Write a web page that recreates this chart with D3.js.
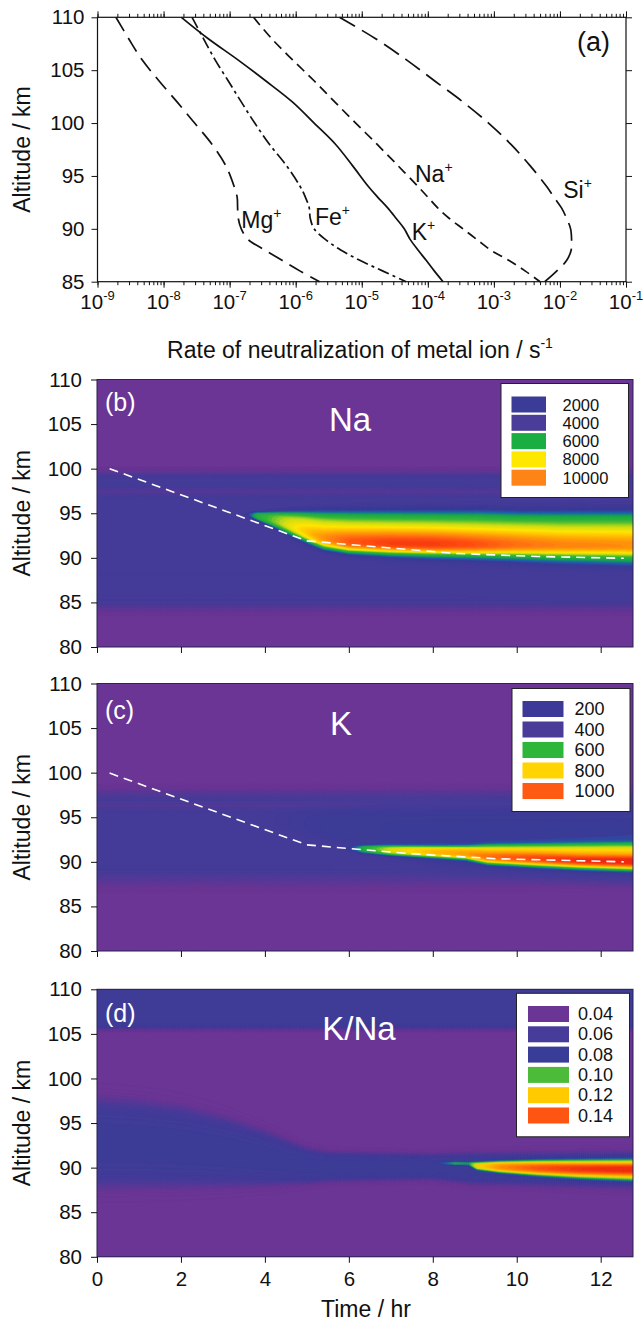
<!DOCTYPE html>
<html>
<head>
<meta charset="utf-8">
<script src="https://cdn.jsdelivr.net/npm/d3@7"></script>
<style>
  body { margin: 0; background: #fff; }
  svg text { font-family: "Liberation Sans", Arial, sans-serif; fill: #111; }
</style>
</head>
<body>
<div id="chart"></div>
<script>
// ---------- panel (a): rate of neutralization profiles ----------
const ionAlt = [110, 108, 106, 104, 102, 100, 98, 96, 94, 93, 92, 91, 90, 89, 88, 87, 86, 85];
const rateMg = [1.9e-9, 2.95e-9, 4.7e-9, 8.5e-9, 1.6e-8, 2.95e-8, 5.4e-8, 8.7e-8, 1.17e-7, 1.3e-7, 1.32e-7, 1.35e-7, 1.5e-7, 1.9e-7, 3.4e-7, 6.3e-7, 1.17e-6, 2.3e-6];
const rateFe = [2.7e-8, 4.0e-8, 6.0e-8, 9.5e-8, 1.5e-7, 2.4e-7, 4.0e-7, 7.2e-7, 1.17e-6, 1.4e-6, 1.6e-6, 1.66e-6, 1.9e-6, 2.8e-6, 4.8e-6, 9.5e-6, 2.1e-5, 4.7e-5];
const rateK  = [1.86e-8, 4.7e-8, 1.32e-7, 3.5e-7, 8.9e-7, 1.9e-6, 4.0e-6, 7.2e-6, 1.26e-5, 1.74e-5, 2.45e-5, 3.3e-5, 4.4e-5, 5.4e-5, 7.1e-5, 9.5e-5, 1.26e-4, 1.7e-4];
const rateNa = [2.3e-7, 4.3e-7, 8.9e-7, 1.9e-6, 3.9e-6, 8.1e-6, 1.7e-5, 3.5e-5, 7.1e-5, 1.0e-4, 1.4e-4, 2.1e-4, 3.4e-4, 5.5e-4, 8.9e-4, 1.7e-3, 3.0e-3, 5.0e-3];
const rateSi = [4.6e-6, 1.6e-5, 4.7e-5, 1.26e-4, 3.4e-4, 8.3e-4, 1.8e-3, 3.5e-3, 6.3e-3, 8.1e-3, 1.05e-2, 1.26e-2, 1.45e-2, 1.5e-2, 1.48e-2, 1.26e-2, 8.9e-3, 5.9e-3];

const rateTicks = [1e-9, 1e-8, 1e-7, 1e-6, 1e-5, 1e-4, 1e-3, 1e-2, 1e-1];
const rateTickExp = ["-9", "-8", "-7", "-6", "-5", "-4", "-3", "-2", "-1"];
const altTicksA = [85, 90, 95, 100, 105, 110];

// ion labels anchored in data units (rate, altitude)
const ionLabels = [
  { ion: "Mg", rate: 1.5e-7, alt: 90.05 },
  { ion: "Fe", rate: 1.96e-6, alt: 90.36 },
  { ion: "Na", rate: 6.4e-5, alt: 94.45 },
  { ion: "K",  rate: 5.7e-5, alt: 88.94 },
  { ion: "Si", rate: 1.12e-2, alt: 92.89 }
];

// ---------- panels (b)-(d): time / altitude fields ----------
const timeTicks = [0, 2, 4, 6, 8, 10, 12];
const altTicks = [80, 85, 90, 95, 100, 105, 110];
const timeMax = 12.77;

// (b) Na: background profile and layer description vs time
const naBgAlt = [80, 83.4, 85.0, 96.8, 97.4, 98.0, 99.0, 100.3, 110];
const naBgVal = [1000, 1000, 3000, 3000, 2300, 3000, 3000, 1100, 1000];
const naTime   = [3.45, 3.8, 4.3, 4.9, 5.4, 6.0, 7.0, 8.0, 9.0, 10.0, 11.0, 12.77];
const naTop    = [95.0, 95.1, 95.1, 95.1, 95.1, 95.1, 95.1, 95.1, 95.1, 95.0, 95.0, 95.0];
const naBottom = [94.9, 94.3, 93.4, 92.3, 91.3, 90.8, 90.4, 90.15, 90.0, 89.8, 89.6, 89.4];
const naShelf  = [0, 3000, 3600, 3800, 3800, 3800, 3800, 3800, 3800, 3800, 3800, 3900];
const naPeakAlt = [94.5, 94.2, 93.4, 92.5, 91.9, 91.6, 91.5, 91.45, 91.4, 91.4, 91.35, 91.3];
const naPeak    = [0, 0, 600, 2000, 3200, 4300, 4800, 4800, 4300, 3600, 3200, 2900];
const naDashTime = [0.3, 5.0, 6.5, 8.5, 10.5, 12.55];
const naDashAlt  = [100.0, 91.9, 91.3, 90.5, 90.15, 89.95];
const naLegend = ["2000", "4000", "6000", "8000", "10000"];

// (c) K
const kBgAlt = [80, 86.4, 87.8, 89.0, 95.6, 96.3, 97.0, 97.6, 98.8, 110];
const kBgVal = [100, 100, 220, 300, 300, 250, 290, 240, 110, 100];
const kHaloTime   = [3.5, 5.5, 8.0, 12.77];
const kHaloTop    = [95.5, 95.8, 95.9, 96.0];
const kHaloBottom = [94.5, 92.5, 90.0, 88.3];
const kHalo       = [0, 110, 130, 140];
const kTime   = [5.8, 6.3, 7.0, 8.0, 8.8, 9.3, 10.5, 11.5, 12.77];
const kTop    = [91.7, 91.8, 91.75, 91.7, 91.7, 91.8, 91.85, 91.9, 91.95];
const kBottom = [91.5, 91.0, 90.8, 90.6, 90.4, 89.9, 89.6, 89.4, 89.2];
const kShelf  = [0, 220, 300, 330, 350, 370, 380, 380, 380];
const kPeakAlt = [91.6, 91.4, 91.2, 91.0, 90.8, 90.5, 90.3, 90.1, 90.0];
const kPeak    = [0, 30, 80, 120, 150, 200, 260, 310, 340];
const kDashTime = [0.3, 5.0, 6.0, 7.5, 9.5, 12.55];
const kDashAlt  = [99.95, 91.9, 91.5, 90.9, 90.35, 90.0];
const kLegend = ["200", "400", "600", "800", "1000"];

// (d) K/Na
const rBgAlt = [80, 105.2, 106.0, 110];
const rBgVal = [0.045, 0.045, 0.072, 0.074];
const rBandTime   = [0, 1, 2, 3, 4, 5, 5.5, 8, 9, 12.77];
const rBandTop    = [97.3, 97.0, 96.4, 95.3, 93.8, 92.0, 91.6, 91.4, 91.5, 91.6];
const rBandBottom = [88.3, 88.3, 88.3, 88.3, 88.3, 88.4, 88.6, 88.8, 88.3, 87.9];
const rBand       = [0.03, 0.03, 0.03, 0.03, 0.03, 0.03, 0.03, 0.03, 0.03, 0.03];
const rTime   = [8.1, 8.5, 8.85, 9.05, 9.6, 10.5, 11.5, 12.77];
const rTop    = [90.55, 90.6, 90.6, 90.55, 90.65, 90.75, 90.8, 90.85];
const rBottom = [90.45, 90.35, 90.3, 89.85, 89.55, 89.2, 88.9, 88.65];
const rShelf  = [0, 0.022, 0.02, 0.035, 0.042, 0.045, 0.047, 0.048];
const rPeakAlt = [90.5, 90.45, 90.45, 90.15, 90.05, 89.95, 89.85, 89.8];
const rPeak    = [0, 0, 0, 0.008, 0.015, 0.022, 0.028, 0.032];
const rLegend = ["0.04", "0.06", "0.08", "0.10", "0.12", "0.14"];

// ---------- styles ----------
const purple = "#6a3594";
const naColor = d3.scaleLinear()
  .domain([0, 1500, 2800, 4200, 4800, 5500, 6500, 7300, 8000, 9000, 10000, 11000, 12000])
  .range([purple, purple, "#463b98", "#3a3b96", "#1d62ae", "#17a64a", "#38b836", "#cfdd14", "#ffe600", "#ffb000", "#ff7c12", "#ff4a10", "#e82a0e"])
  .clamp(true);
const kColor = d3.scaleLinear()
  .domain([0, 150, 280, 420, 500, 560, 650, 730, 800, 900, 1000, 1100])
  .range([purple, purple, "#463b98", "#3a3b96", "#1d62ae", "#18a84a", "#35ba38", "#cadc16", "#ffd800", "#ffa000", "#ff5a12", "#f02810"])
  .clamp(true);
const rColor = d3.scaleLinear()
  .domain([0, 0.05, 0.062, 0.075, 0.085, 0.095, 0.10, 0.11, 0.12, 0.13, 0.14, 0.15])
  .range([purple, purple, "#473b99", "#3b3c97", "#2a5aa8", "#1aa84a", "#4cbb3a", "#c8d820", "#ffcc00", "#ff9400", "#ff5512", "#f03010"])
  .clamp(true);
const naSwatch = ["#3b3c98", "#4a3d9a", "#19ad42", "#ffe800", "#ff8418"];
const kSwatch = ["#3c3a96", "#4b3b98", "#2db63a", "#ffd400", "#ff5a14"];
const rSwatch = ["#6a3594", "#473c9a", "#3a3d97", "#4cbb3a", "#ffcb00", "#ff5512"];

const tickFont = 20.5, titleFont = 23;

const W = 644, H = 1322;
const svg = d3.select("#chart").append("svg")
  .attr("width", W)
  .attr("height", H);

// ====================== panel (a) ======================
const aBox = { left: 97.5, right: 626, top: 17.3, bottom: 281.7 };
const xRate = d3.scaleLog().domain([1e-9, 1e-1]).range([aBox.left, aBox.right]);
const yA = d3.scaleLinear().domain([85, 110]).range([aBox.bottom, aBox.top]);

const gA = svg.append("g");

function noDomain(sel) { sel.select(".domain").remove(); }

// minor + major ticks, bottom and top
gA.append("g").attr("transform", `translate(0,${aBox.bottom})`)
  .call(d3.axisBottom(xRate).tickValues(xRate.ticks()).tickSize(3.5).tickFormat(""))
  .call(noDomain);
gA.append("g").attr("transform", `translate(0,${aBox.bottom})`)
  .call(d3.axisBottom(xRate).tickValues(rateTicks).tickSize(6).tickFormat(""))
  .call(noDomain);
gA.append("g").attr("transform", `translate(0,${aBox.top})`)
  .call(d3.axisTop(xRate).tickValues(xRate.ticks()).tickSize(3.5).tickFormat(""))
  .call(noDomain);
gA.append("g").attr("transform", `translate(0,${aBox.top})`)
  .call(d3.axisTop(xRate).tickValues(rateTicks).tickSize(6).tickFormat(""))
  .call(noDomain);
gA.append("g").attr("transform", `translate(${aBox.left},0)`)
  .call(d3.axisLeft(yA).tickValues(altTicksA).tickSize(6).tickPadding(7))
  .call(noDomain)
  .selectAll("text").attr("font-size", tickFont);
gA.append("g").attr("transform", `translate(${aBox.right},0)`)
  .call(d3.axisRight(yA).tickValues(altTicksA).tickSize(6).tickFormat(""))
  .call(noDomain);
gA.selectAll(".tick line").attr("stroke", "#111");

rateTicks.forEach((v, i) => {
  const t = gA.append("text")
    .attr("x", xRate(v))
    .attr("y", 308.5)
    .attr("text-anchor", "middle")
    .attr("font-size", tickFont);
  t.append("tspan").text("10");
  t.append("tspan").attr("dy", -9).attr("font-size", 13).text(rateTickExp[i]);
});

gA.append("rect")
  .attr("x", aBox.left).attr("y", aBox.top)
  .attr("width", aBox.right - aBox.left).attr("height", aBox.bottom - aBox.top)
  .attr("fill", "none").attr("stroke", "#111").attr("stroke-width", 1.2);

const ionSeries = [
  { rates: rateMg, dash: "16,8" },
  { rates: rateFe, dash: "12,4,3,4" },
  { rates: rateK,  dash: null },
  { rates: rateNa, dash: "10,6" },
  { rates: rateSi, dash: "18,8" }
];
const ionLine = d3.line()
  .x(d => xRate(d.rate))
  .y(d => yA(d.alt))
  .curve(d3.curveCatmullRom);
ionSeries.forEach(s => {
  gA.append("path")
    .datum(ionAlt.map((a, i) => ({ alt: a, rate: s.rates[i] })))
    .attr("d", ionLine)
    .attr("fill", "none")
    .attr("stroke", "#111")
    .attr("stroke-width", 1.7)
    .attr("stroke-dasharray", s.dash);
});

ionLabels.forEach(d => {
  const t = gA.append("text")
    .attr("x", xRate(d.rate))
    .attr("y", yA(d.alt))
    .attr("font-size", 23);
  t.append("tspan").text(d.ion);
  t.append("tspan").attr("dy", -10).attr("font-size", 14).text("+");
});

gA.append("text")
  .attr("x", 577).attr("y", 51)
  .attr("font-size", 27)
  .text("(a)");

const xTitle = gA.append("text")
  .attr("x", 360).attr("y", 358)
  .attr("text-anchor", "middle")
  .attr("font-size", titleFont);
xTitle.append("tspan").text("Rate of neutralization of metal ion / s");
xTitle.append("tspan").attr("dy", -10).attr("font-size", 14).text("-1");

function yTitle(g, cy) {
  g.append("text")
    .attr("transform", `translate(30,${cy}) rotate(-90)`)
    .attr("text-anchor", "middle")
    .attr("font-size", titleFont)
    .text("Altitude / km");
}
yTitle(gA, (aBox.top + aBox.bottom) / 2);

// ====================== heat panels ======================
const nx = 256, ny = 240;
const interp = (xs, ys) => d3.scaleLinear().domain(xs).range(ys).clamp(true);

function bandShape(z, lo, hi) {
  const mid = (lo + hi) / 2, half = Math.max((hi - lo) / 2, 0.12);
  const u = (z - mid) / half;
  return Math.exp(-Math.LN2 * u * u * u * u);
}
function peakShape(z, c, sUp, sDown) {
  const u = (z - c) / (z > c ? sUp : sDown);
  return Math.exp(-0.5 * u * u);
}

function buildField(bg, bands, peaks) {
  const values = new Float64Array(nx * ny);
  for (let j = 0; j < ny; j++) {
    const z = 80 + (j + 0.5) * 30 / ny;
    const base = bg(z);
    for (let i = 0; i < nx; i++) {
      const t = (i + 0.5) * timeMax / nx;
      let v = base;
      bands.forEach(b => {
        const a = b.amp(t);
        if (a > 0) v += a * bandShape(z, b.bottom(t), b.top(t));
      });
      peaks.forEach(p => {
        const a = p.amp(t);
        if (a > 0) v += a * peakShape(z, p.alt(t), p.up, p.down);
      });
      values[j * nx + i] = v;
    }
  }
  return values;
}

function heatPanel(opt) {
  const box = { left: 97, right: 633, top: opt.top, bottom: opt.top + 267.5 };
  const x = d3.scaleLinear().domain([0, timeMax]).range([box.left, box.right]);
  const y = d3.scaleLinear().domain([80, 110]).range([box.bottom, box.top]);
  const g = svg.append("g");

  const clipId = "clip" + opt.tag;
  g.append("clipPath").attr("id", clipId)
    .append("rect")
    .attr("x", box.left).attr("y", box.top)
    .attr("width", box.right - box.left).attr("height", box.bottom - box.top);

  const proj = d3.geoTransform({
    point: function (gx, gy) {
      this.stream.point(x(gx * timeMax / nx), y(80 + gy * 30 / ny));
    }
  });
  const path = d3.geoPath(proj);
  const contours = d3.contours().size([nx, ny]).thresholds(opt.thresholds)(opt.values);

  g.append("g").attr("clip-path", `url(#${clipId})`)
    .selectAll("path")
    .data(contours)
    .join("path")
    .attr("d", path)
    .attr("fill", d => opt.color(d.value))
    .attr("stroke", d => opt.color(d.value))
    .attr("stroke-width", 0.4);

  if (opt.dashTime) {
    g.append("path")
      .datum(opt.dashTime.map((t, i) => [t, opt.dashAlt[i]]))
      .attr("d", d3.line().x(d => x(d[0])).y(d => y(d[1])))
      .attr("fill", "none")
      .attr("stroke", "#fff")
      .attr("stroke-width", 1.6)
      .attr("stroke-dasharray", "9,6");
  }

  g.append("rect")
    .attr("x", box.left).attr("y", box.top)
    .attr("width", box.right - box.left).attr("height", box.bottom - box.top)
    .attr("fill", "none").attr("stroke", "#2b2350").attr("stroke-width", 1);

  // axes
  g.append("g").attr("transform", `translate(${box.left},0)`)
    .call(d3.axisLeft(y).tickValues(altTicks).tickSize(6).tickPadding(9))
    .call(noDomain)
    .selectAll("text").attr("font-size", tickFont);
  const xa = g.append("g").attr("transform", `translate(0,${box.bottom})`)
    .call(d3.axisBottom(x).tickValues(timeTicks).tickSize(6).tickPadding(9))
    .call(noDomain);
  if (opt.timeLabels) xa.selectAll("text").attr("font-size", tickFont);
  else xa.selectAll("text").remove();
  g.selectAll(".tick line").attr("stroke", "#111");

  yTitle(g, (box.top + box.bottom) / 2);

  g.append("text")
    .attr("x", 105).attr("y", box.top + opt.tagBase)
    .attr("font-size", 25)
    .style("fill", "#fff")
    .text(`(${opt.tag})`);
  g.append("text")
    .attr("x", opt.nameX).attr("y", box.top + 51)
    .attr("text-anchor", "middle")
    .attr("font-size", 33)
    .style("fill", "#fff")
    .text(opt.name);

  // legend
  const lg = g.append("g").attr("transform", `translate(${opt.legend.x},${box.top + opt.legend.y})`);
  lg.append("rect")
    .attr("width", opt.legend.w).attr("height", opt.legend.h)
    .attr("fill", "#fff").attr("stroke", "#222").attr("stroke-width", 1);
  opt.legendLabels.forEach((lab, i) => {
    const row = lg.append("g").attr("transform", `translate(0,${opt.legend.row0 + i * opt.legend.step})`);
    row.append("rect")
      .attr("x", opt.legend.sx).attr("width", opt.legend.sw).attr("height", 16)
      .attr("fill", opt.swatch[i]);
    row.append("text")
      .attr("x", opt.legend.tx).attr("y", 14)
      .attr("font-size", opt.legend.font)
      .text(lab);
  });

  if (opt.xTitle) {
    g.append("text")
      .attr("x", 366).attr("y", 1317)
      .attr("text-anchor", "middle")
      .attr("font-size", titleFont)
      .text("Time / hr");
  }
}

// (b) Na
const naValues = buildField(
  interp(naBgAlt, naBgVal),
  [{ top: interp(naTime, naTop), bottom: interp(naTime, naBottom), amp: interp(naTime, naShelf) }],
  [{ alt: interp(naTime, naPeakAlt), amp: interp(naTime, naPeak), up: 1.2, down: 0.6 }]
);
heatPanel({
  tag: "b", name: "Na", nameX: 350, top: 379.5, tagBase: 31,
  values: naValues, thresholds: d3.range(0, 12600, 200), color: naColor,
  dashTime: naDashTime, dashAlt: naDashAlt,
  legendLabels: naLegend, swatch: naSwatch,
  legend: { x: 501, y: 4, w: 127.5, h: 114, row0: 13, step: 18.3, sx: 10.5, sw: 34.5, tx: 61.5, font: 16.5 },
  timeLabels: false
});

// (c) K
const kValues = buildField(
  interp(kBgAlt, kBgVal),
  [
    { top: interp(kHaloTime, kHaloTop), bottom: interp(kHaloTime, kHaloBottom), amp: interp(kHaloTime, kHalo) },
    { top: interp(kTime, kTop), bottom: interp(kTime, kBottom), amp: interp(kTime, kShelf) }
  ],
  [{ alt: interp(kTime, kPeakAlt), amp: interp(kTime, kPeak), up: 0.5, down: 0.5 }]
);
heatPanel({
  tag: "c", name: "K", nameX: 341, top: 683.5, tagBase: 35,
  values: kValues, thresholds: d3.range(0, 1260, 20), color: kColor,
  dashTime: kDashTime, dashAlt: kDashAlt,
  legendLabels: kLegend, swatch: kSwatch,
  legend: { x: 512, y: 5, w: 118, h: 123, row0: 12.5, step: 20.5, sx: 10.5, sw: 41, tx: 62.5, font: 18 },
  timeLabels: false
});

// (d) K/Na
const rValues = buildField(
  interp(rBgAlt, rBgVal),
  [
    { top: interp(rBandTime, rBandTop), bottom: interp(rBandTime, rBandBottom), amp: interp(rBandTime, rBand) },
    { top: interp(rTime, rTop), bottom: interp(rTime, rBottom), amp: interp(rTime, rShelf) }
  ],
  [{ alt: interp(rTime, rPeakAlt), amp: interp(rTime, rPeak), up: 0.4, down: 0.4 }]
);
heatPanel({
  tag: "d", name: "K/Na", nameX: 359, top: 989.3, tagBase: 33,
  values: rValues, thresholds: d3.range(0, 0.162, 0.002), color: rColor,
  legendLabels: rLegend, swatch: rSwatch,
  legend: { x: 516.5, y: 4, w: 113, h: 143.5, row0: 12.7, step: 20.3, sx: 11.5, sw: 41, tx: 61.5, font: 18 },
  timeLabels: true, xTitle: true
});
</script>
</body>
</html>
